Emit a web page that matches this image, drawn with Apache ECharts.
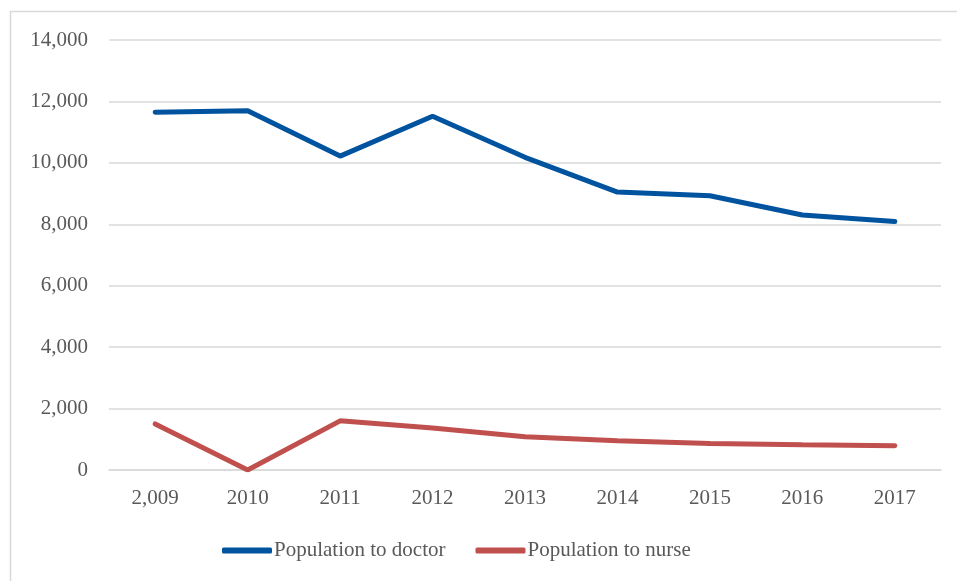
<!DOCTYPE html>
<html><head><meta charset="utf-8">
<script src="https://cdn.jsdelivr.net/npm/echarts@6/dist/echarts.min.js"></script>
<style>html,body{margin:0;padding:0;background:#fff}#c{width:957px;height:581px}</style>
</head><body><div id="c"></div>
<script>
const categories = ["2,009","2010","2011","2012","2013","2014","2015","2016","2017"];
const doctor = [11650, 11700, 10220, 11520, 10180, 9050, 8930, 8300, 8090];
const nurse = [1500, 0, 1600, 1370, 1080, 950, 860, 820, 790];
const seriesNames = ["Population to doctor","Population to nurse"];
const FONT = "'Liberation Serif', 'DejaVu Serif', serif";
const chart = echarts.init(document.getElementById('c'));
chart.setOption({
  animation:false,
  graphic:[{type:'rect',shape:{x:10.5,y:11.5,width:1000,height:1000},style:{fill:'none',stroke:'#d9d9d9',lineWidth:1.5}}],
  grid:{left:109,right:16,top:40,bottom:111,containLabel:false},
  legend:{bottom:15,left:217,itemWidth:50,itemHeight:6,itemGap:30,
    textStyle:{fontFamily:FONT,fontSize:21,color:'#595959',padding:[0,0,0,-3]},
    data:seriesNames.map(n=>({name:n,icon:'roundRect'}))},
  xAxis:{type:'category',data:categories,boundaryGap:true,
    axisLine:{show:true,lineStyle:{color:'#d9d9d9',width:1.5}},axisTick:{show:false},
    axisLabel:{fontFamily:FONT,fontSize:21,color:'#595959',margin:18}},
  yAxis:{type:'value',min:0,max:14000,interval:2000,
    axisLine:{show:false},axisTick:{show:false},
    splitLine:{lineStyle:{color:'#d9d9d9',width:1.5}},
    axisLabel:{fontFamily:FONT,fontSize:21,color:'#595959',margin:21,
      formatter:v=>v.toLocaleString('en-US')}},
  series:[
    {name:seriesNames[0],type:'line',data:doctor,symbol:'none',lineStyle:{color:'#00539f',width:5,cap:'round'},itemStyle:{color:'#00539f'}},
    {name:seriesNames[1],type:'line',data:nurse,symbol:'none',lineStyle:{color:'#c0504d',width:5,cap:'round'},itemStyle:{color:'#c0504d'}}
  ]
});
</script></body></html>
